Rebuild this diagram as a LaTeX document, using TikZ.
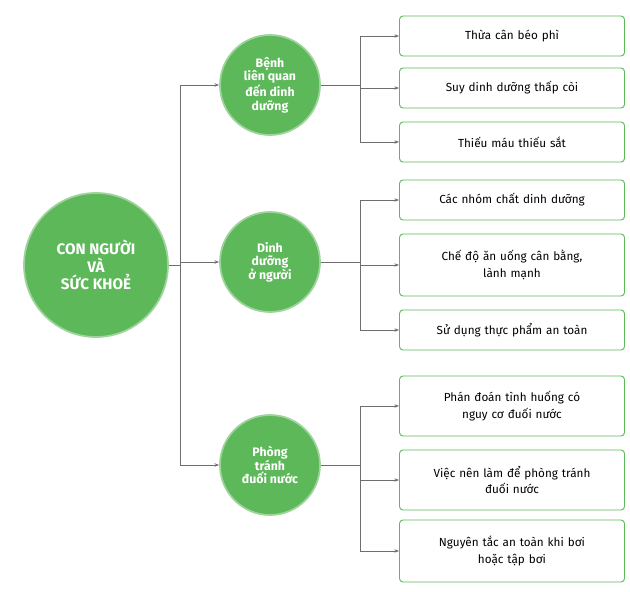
\documentclass[tikz,border=0pt]{standalone}
\usepackage{fontspec}
\setmainfont{Fira Sans}
\usetikzlibrary{positioning,arrows.meta,calc}
\definecolor{leaf}{HTML}{5DB85A}
\definecolor{wire}{HTML}{6E6E6E}
\newlength{\px}\setlength{\px}{0.03cm}

\tikzset{
  hub/.style={circle,fill=leaf,draw=leaf!60,line width=1.5pt,text=white,font=\bfseries\fontsize{13}{15}\selectfont,align=center,minimum size=144\px,inner sep=0pt},
  topic/.style={circle,fill=leaf,draw=leaf!60,line width=1.5pt,text=white,font=\bfseries\fontsize{10.5}{11.5}\selectfont,align=center,minimum size=100\px,inner sep=0pt},
  leafbox/.style={draw=leaf,rounded corners=3pt,line width=0.8pt,text width=210\px,align=center,font=\fontsize{10}{14}\selectfont,minimum width=225\px},
  link/.style={draw=wire,line width=0.6pt},
  arr/.style={link,-{Stealth[length=4pt]}}
}

\begin{document}
\begin{tikzpicture}[x=0.03cm,y=-0.03cm]
  \useasboundingbox (0,0) rectangle (630,592);

  % vòng tròn chính
  \node[hub] (H) at (96,265) {CON NGƯỜI\\VÀ\\SỨC KHOẺ};

  % các chủ đề
  \node[topic] (T1) at (270,85)  {Bệnh\\liên quan\\đến dinh\\dưỡng};
  \node[topic] (T2) at (270,262) {Dinh\\dưỡng\\ở người};
  \node[topic] (T3) at (270,465) {Phòng\\tránh\\đuối nước};

  % các hộp
  \node[leafbox,minimum height=40\px] (A1) at (512,36)  {Thừa cân béo phì};
  \node[leafbox,minimum height=40\px] (A2) at (512,88)  {Suy dinh dưỡng thấp còi};
  \node[leafbox,minimum height=40\px] (A3) at (512,142) {Thiếu máu thiếu sắt};
  \node[leafbox,minimum height=40\px] (B1) at (512,200) {Các nhóm chất dinh dưỡng};
  \node[leafbox,minimum height=62\px] (B2) at (512,265) {Chế độ ăn uống cân bằng,\\lành mạnh};
  \node[leafbox,minimum height=40\px] (B3) at (512,330) {Sử dụng thực phẩm an toàn};
  \node[leafbox,minimum height=60\px] (C1) at (512,406) {Phán đoán tình huống có\\nguy cơ đuối nước};
  \node[leafbox,minimum height=60\px] (C2) at (512,480) {Việc nên làm để phòng tránh\\đuối nước};
  \node[leafbox,minimum height=62\px] (C3) at (512,551) {Nguyên tắc an toàn khi bơi\\hoặc tập bơi};

  % nhánh chính
  \coordinate (J) at (180,265);
  \draw[link] (H.east) -- (J);
  \draw[link] (180,85) -- (180,465);
  \foreach \t in {T1,T2,T3}
    \draw[arr] (180,0 |- \t) -- (\t.west);

  % nhánh phụ
  \foreach \t/\a/\b/\c in {T1/A1/A2/A3, T2/B1/B2/B3, T3/C1/C2/C3} {
    \draw[link] (\t.east) -- (360,0 |- \t);
    \draw[link] (360,0 |- \a) -- (360,0 |- \c);
    \foreach \x in {\a,\b,\c}
      \draw[arr] (360,0 |- \x) -- (\x.west);
  }
\end{tikzpicture}
\end{document}
